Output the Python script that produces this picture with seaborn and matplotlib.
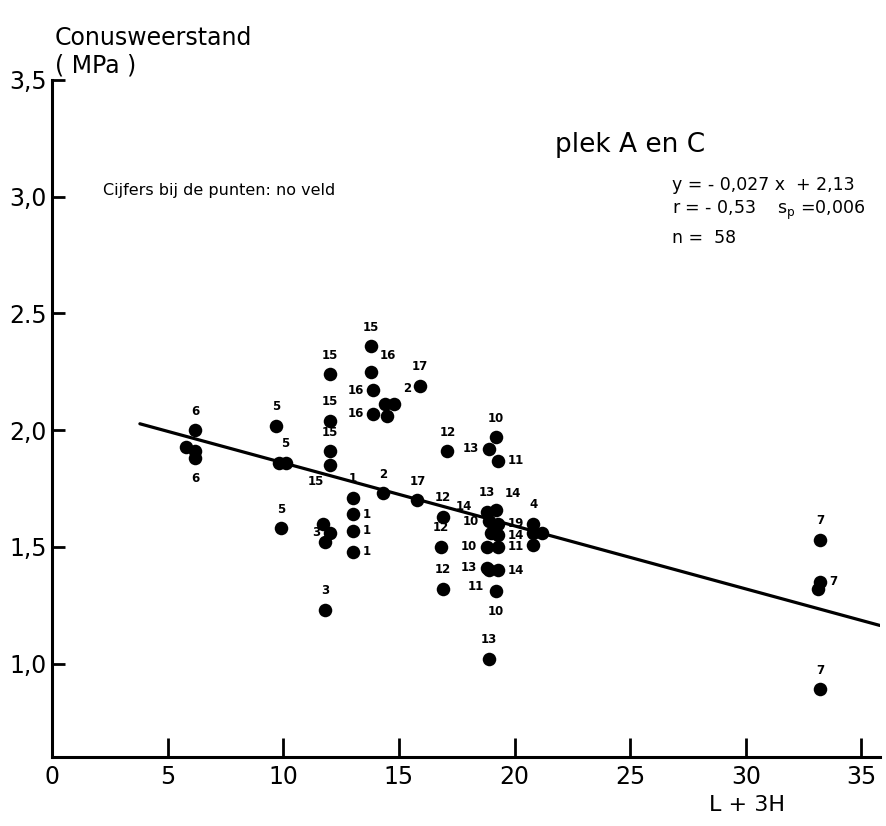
import numpy as np
import pandas as pd
import seaborn as sns
import matplotlib.pyplot as plt

sns.set_style("ticks")
plt.rcParams['font.family'] = ['DejaVu Sans']
plt.rcParams.update({"text.color": "black", "axes.edgecolor": "black",
                     "xtick.color": "black", "ytick.color": "black",
                     "axes.labelcolor": "black"})

# values: L + 3H, cone resistance (MPa), field number
xvals = [6.2, 5.8, 6.2, 6.2,
         9.7, 9.8, 10.1, 9.9,
         12.0, 12.0, 12.0, 12.0, 13.8,
         13.8, 13.9, 13.9,
         14.4, 14.8, 14.5, 14.3,
         15.9, 15.8,
         17.1, 16.9, 16.8, 16.9,
         13.0, 13.0, 13.0, 13.0,
         11.7, 12.0, 11.8, 11.8,
         18.9, 18.8, 18.8, 18.9,
         19.2, 18.9, 18.8, 19.2,
         19.3, 19.3, 18.9,
         19.2, 19.0, 19.3, 19.3,
         19.3,
         20.8, 20.8, 21.2, 20.8,
         33.2, 33.2, 33.1, 33.2]
yvals = [2.00, 1.93, 1.91, 1.88,
         2.02, 1.86, 1.86, 1.58,
         2.24, 2.04, 1.91, 1.85, 2.36,
         2.25, 2.17, 2.07,
         2.11, 2.11, 2.06, 1.73,
         2.19, 1.70,
         1.91, 1.63, 1.50, 1.32,
         1.71, 1.64, 1.57, 1.48,
         1.60, 1.56, 1.52, 1.23,
         1.92, 1.65, 1.41, 1.02,
         1.97, 1.61, 1.50, 1.31,
         1.87, 1.50, 1.40,
         1.66, 1.56, 1.55, 1.40,
         1.60,
         1.60, 1.56, 1.56, 1.51,
         1.53, 1.35, 1.32, 0.89]
fields = ["6", "6", "6", "6",
          "5", "5", "5", "5",
          "15", "15", "15", "15", "15",
          "16", "16", "16",
          "2", "2", "2", "2",
          "17", "17",
          "12", "12", "12", "12",
          "1", "1", "1", "1",
          "3", "3", "3", "3",
          "13", "13", "13", "13",
          "10", "10", "10", "10",
          "11", "11", "11",
          "14", "14", "14", "14",
          "19",
          "4", "4", "4", "4",
          "7", "7", "7", "7"]
# where each number sits relative to its dot (n/s/e/w, '' = shared label)
label_pos = ["n", "", "", "s",
             "n", "", "n", "n",
             "n", "n", "n", "sw", "n",
             "ne", "w", "w",
             "", "ne", "", "n",
             "n", "n",
             "n", "n", "n", "n",
             "n", "e", "e", "e",
             "", "w", "", "n",
             "w", "n", "w", "n",
             "n", "w", "w", "s",
             "e", "e", "sw",
             "ne", "line", "e", "e",
             "e",
             "n", "", "", "",
             "n", "e", "", "n"]

x_ticks = [0, 5, 10, 15, 20, 25, 30, 35]
y_ticks = [1.0, 1.5, 2.0, 2.5, 3.0, 3.5]
y_tick_labels = ["1,0", "1,5", "2,0", "2.5", "3,0", "3,5"]

slope, intercept = -0.027, 2.13
fit_range = [3.8, 35.8]

df = pd.DataFrame({"x": xvals, "y": yvals, "veld": fields, "pos": label_pos})
fit = pd.DataFrame({"x": fit_range})
fit["y"] = slope * fit["x"] + intercept

fig = plt.figure(figsize=(8.87, 8.26), dpi=100)
ax = fig.add_axes([52 / 887, 1 - 757 / 826, (880 - 52) / 887, (757 - 80) / 826])

sns.lineplot(data=fit, x="x", y="y", color="black", linewidth=2.3, ax=ax)
sns.scatterplot(data=df, x="x", y="y", color="black", s=95, edgecolor="black",
                linewidth=0, ax=ax, zorder=3)

offsets = {"n": (0, 9, "center", "bottom"), "s": (0, -10, "center", "top"),
           "e": (7, 0, "left", "center"), "w": (-7, 0, "right", "center"),
           "ne": (6, 7, "left", "bottom"), "nw": (-6, 7, "right", "bottom"),
           "sw": (-4, -7, "right", "top"), "line": (-20, 19, "center", "center")}
for _, r in df.iterrows():
    if r["pos"] == "":
        continue
    dx, dy, ha, va = offsets[r["pos"]]
    ax.annotate(r["veld"], (r["x"], r["y"]), xytext=(dx, dy), textcoords="offset points",
                ha=ha, va=va, fontsize=8.5, fontweight="bold")

ax.set_xlim(0, 35.8)
ax.set_ylim(0.6, 3.5)
ax.set_xticks(x_ticks)
ax.set_xticklabels([str(t) for t in x_ticks], fontsize=17)
ax.set_yticks(y_ticks)
ax.set_yticklabels(y_tick_labels, fontsize=17)
ax.tick_params(axis="x", direction="in", length=14, width=2, pad=6)
ax.tick_params(axis="y", direction="in", length=9, width=2, pad=4)
ax.set_xlabel("")
ax.set_ylabel("")
for s in ["top", "right"]:
    ax.spines[s].set_visible(False)
for s in ["left", "bottom"]:
    ax.spines[s].set_linewidth(2.2)

fig.text(55 / 887, 1 - 38 / 826, "Conusweerstand", fontsize=17, va="center")
fig.text(55 / 887, 1 - 66 / 826, "( MPa )", fontsize=17, va="center")
fig.text(747 / 887, 1 - 805 / 826, "L + 3H", fontsize=16, ha="center", va="center")
fig.text(555 / 887, 1 - 145 / 826, "plek A en C", fontsize=19, va="center")
fig.text(103 / 887, 1 - 190 / 826, "Cijfers bij de punten: no veld", fontsize=11.5, va="center")
fig.text(672 / 887, 1 - 185 / 826, "y = - 0,027 x  + 2,13", fontsize=12.5, va="center")
fig.text(672 / 887, 1 - 210 / 826, r"r = - 0,53    s$_\mathregular{p}$ =0,006", fontsize=12.5, va="center")
fig.text(672 / 887, 1 - 238 / 826, "n =  58", fontsize=12.5, va="center")

fig.savefig("out.png", dpi=100)
